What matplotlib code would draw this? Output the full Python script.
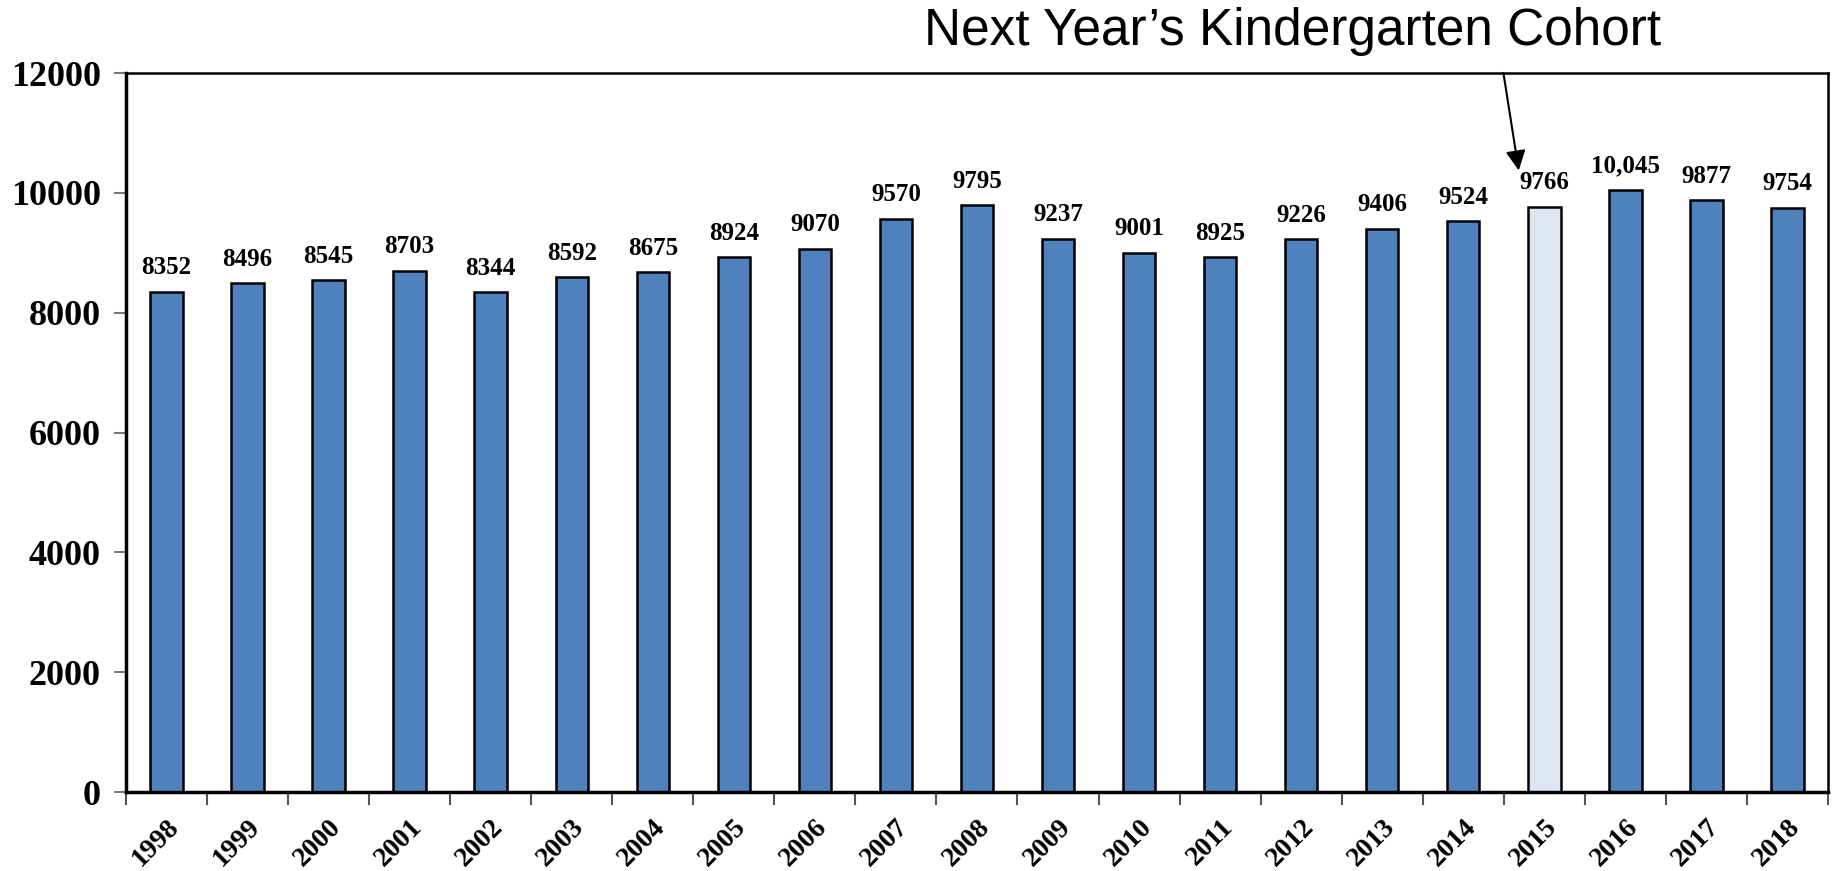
import matplotlib
matplotlib.use("Agg")
import matplotlib.pyplot as plt
from matplotlib.ticker import FixedLocator, NullFormatter

years = [str(y) for y in range(1998, 2019)]
counts = [8352, 8496, 8545, 8703, 8344, 8592, 8675, 8924, 9070, 9570, 9795,
          9237, 9001, 8925, 9226, 9406, 9524, 9766, 10045, 9877, 9754]
value_labels = ["8352", "8496", "8545", "8703", "8344", "8592", "8675", "8924",
                "9070", "9570", "9795", "9237", "9001", "8925", "9226", "9406",
                "9524", "9766", "10,045", "9877", "9754"]
highlight_year = "2015"
title_text = "Next Year\u2019s Kindergarten Cohort"

blue = "#4F81BD"
light = "#DCE6F2"
serif = "Liberation Serif"

fig = plt.figure(figsize=(18.39, 8.71), dpi=100)
ax = fig.add_axes([0.0685, 0.0907, 0.9255, 0.8253])

x = list(range(len(years)))
colors = [light if y == highlight_year else blue for y in years]
bars = ax.bar(x, counts, width=0.4, color=colors, edgecolor="black", linewidth=1.8)

for xi, v, lab in zip(x, counts, value_labels):
    ax.annotate(lab, (xi, v), xytext=(0, 9), textcoords="offset points",
                ha="center", va="bottom", fontsize=18, fontweight="bold",
                family=serif)

ax.set_xlim(-0.5, len(years) - 0.5)
ax.set_ylim(0, 12000)
ax.set_yticks(range(0, 12001, 2000))
ax.set_yticklabels([str(v) for v in range(0, 12001, 2000)],
                   fontsize=26, fontweight="bold", family=serif)

ax.set_xticks(x)
ax.set_xticklabels(years, rotation=45, ha="right", rotation_mode="anchor",
                   fontsize=20, fontweight="bold", family=serif)
ax.tick_params(axis="x", which="major", length=0, pad=16)
ax.xaxis.set_minor_locator(FixedLocator([i - 0.5 for i in range(len(years) + 1)]))
ax.xaxis.set_minor_formatter(NullFormatter())
ax.tick_params(axis="x", which="minor", length=9, width=1.5, color="#555555",
               direction="out")
ax.tick_params(axis="y", length=9, width=1.5, color="#777777", direction="out", pad=9)

for side in ["left", "bottom"]:
    ax.spines[side].set_linewidth(2.5)
for side in ["top", "right"]:
    ax.spines[side].set_linewidth(1.8)

idx = years.index(highlight_year)
ax.annotate("", xy=(idx - 0.31, 10330), xytext=(idx - 0.51, 12050),
            arrowprops=dict(arrowstyle="-|>", color="black", lw=1.5,
                            mutation_scale=30),
            annotation_clip=False)

fig.text(0.703, 0.964, title_text, ha="center", va="center", fontsize=37,
         family="Liberation Sans")

fig.savefig("out.png", dpi=100)
